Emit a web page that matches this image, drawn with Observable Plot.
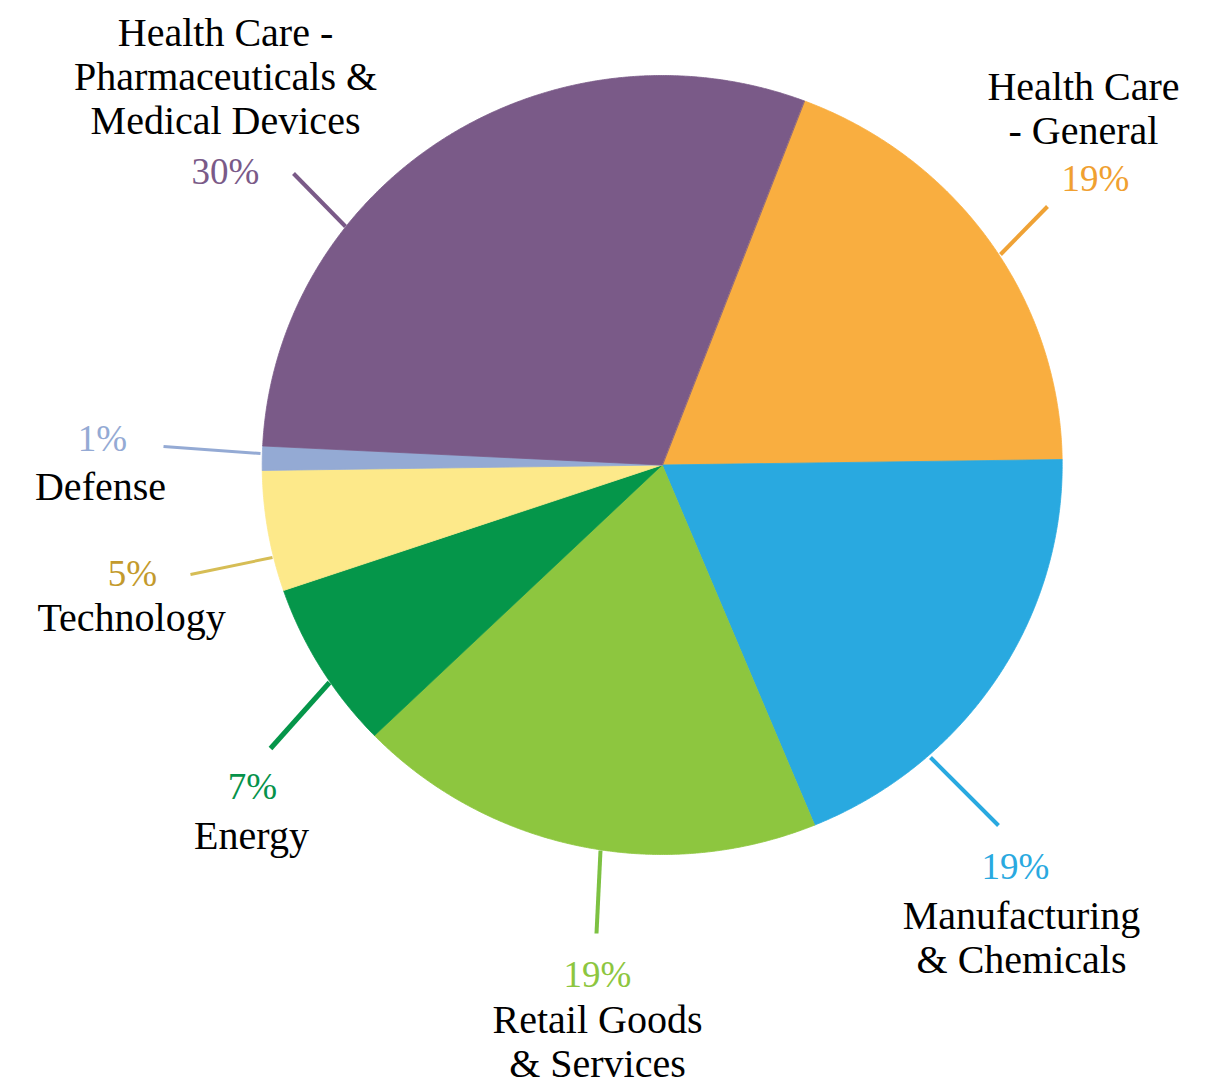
<!DOCTYPE html>
<html>
<head>
<meta charset="utf-8">
<script src="https://cdn.jsdelivr.net/npm/d3@7"></script>
<script src="https://cdn.jsdelivr.net/npm/@observablehq/plot@0.6"></script>
<style>
  html, body { margin: 0; padding: 0; background: #ffffff; }
  #chart svg { display: block; }
</style>
</head>
<body>
<div id="chart"></div>
<script>
// ---- data ----
const categories = [
  "Health Care - General",
  "Manufacturing & Chemicals",
  "Retail Goods & Services",
  "Energy",
  "Technology",
  "Defense",
  "Health Care - Pharmaceuticals & Medical Devices"
];
const values = [19, 19, 19, 7, 5, 1, 30];
const percentLabels = ["19%", "19%", "19%", "7%", "5%", "1%", "30%"];
const nameLines = [
  "Health Care\n- General",
  "Manufacturing\n& Chemicals",
  "Retail Goods\n& Services",
  "Energy",
  "Technology",
  "Defense",
  "Health Care -\nPharmaceuticals &\nMedical Devices"
];

// ---- styles ----
const sliceColors  = ["#F9AE40", "#29A9E0", "#8DC63F", "#05964A", "#FDE98A", "#94AAD4", "#7A5A88"];
const pctColors    = ["#F0A030", "#29A9E0", "#8DC63F", "#06924A", "#C39A2C", "#94AAD4", "#7A5A88"];
const leaderColors = ["#EFA235", "#29A9E0", "#7DC142", "#05964A", "#D6BD55", "#94AAD4", "#7A5A88"];
const leaderWidths = [4, 4, 4, 5, 3, 3, 4];

// ---- layout (pixels) ----
const W = 1211, H = 1085;
const CX = 661.7, CY = 464.5, RX = 400, RY = 389.5;
const START_DEG = 20.8;
const nameAt = [[1083, 143], [1021, 972], [597, 1076], [251, 848], [131, 630], [100, 499], [225, 133]];
const pctAt  = [[1095, 190], [1015, 878], [597, 986], [252, 798], [132, 585], [102, 450], [225, 183]];
const leaderAt = [
  [[1000, 254], [1047, 206]],
  [[930, 757], [998, 825]],
  [[600, 850], [596, 933]],
  [[329, 682], [270, 748]],
  [[272, 557], [190, 574]],
  [[260, 453], [163, 446]],
  [[345, 226], [293, 173]]
];

// ---- build slice polygons from the values ----
const start = START_DEG * Math.PI / 180;
const arcs = d3.pie().sort(null).startAngle(start).endAngle(start + 2 * Math.PI)(values);
const slicePts = [];
arcs.forEach((a, i) => {
  const n = Math.max(2, Math.ceil((a.endAngle - a.startAngle) / (0.25 * Math.PI / 180)));
  slicePts.push({cat: categories[i], color: sliceColors[i], x: CX, y: CY});
  for (let k = 0; k <= n; k++) {
    const t = a.startAngle + (a.endAngle - a.startAngle) * k / n;
    slicePts.push({cat: categories[i], color: sliceColors[i], x: CX + RX * Math.sin(t), y: CY - RY * Math.cos(t)});
  }
});

const leaders = categories.map((c, i) => ({
  cat: c, color: leaderColors[i], w: leaderWidths[i],
  x1: leaderAt[i][0][0], y1: leaderAt[i][0][1], x2: leaderAt[i][1][0], y2: leaderAt[i][1][1]
}));
const names = categories.map((c, i) => ({text: nameLines[i], x: nameAt[i][0], y: nameAt[i][1]}));
const pcts = categories.map((c, i) => ({text: percentLabels[i], color: pctColors[i], x: pctAt[i][0], y: pctAt[i][1]}));

const font = "'Liberation Serif', 'Times New Roman', serif";

const chart = Plot.plot({
  width: W,
  height: H,
  margin: 0,
  x: {domain: [0, W], range: [0, W], axis: null},
  y: {domain: [0, H], range: [0, H], axis: null},
  color: {type: "identity"},
  style: {background: "#ffffff"},
  marks: [
    Plot.line(slicePts, {x: "x", y: "y", z: "cat", fill: "color", stroke: "color", strokeWidth: 0.8, curve: "linear-closed"}),
    ...leaders.map(l => Plot.link([l], {x1: "x1", y1: "y1", x2: "x2", y2: "y2", stroke: "color", strokeWidth: l.w, strokeLinecap: "butt"})),
    Plot.text(names, {x: "x", y: "y", text: "text", fill: "#000000", fontSize: 40, fontFamily: font, textAnchor: "middle", lineAnchor: "bottom", lineHeight: 1.1}),
    Plot.text(pcts, {x: "x", y: "y", text: "text", fill: "color", fontSize: 37, fontFamily: font, textAnchor: "middle", lineAnchor: "bottom"})
  ]
});
document.getElementById("chart").appendChild(chart);
</script>
</body>
</html>
